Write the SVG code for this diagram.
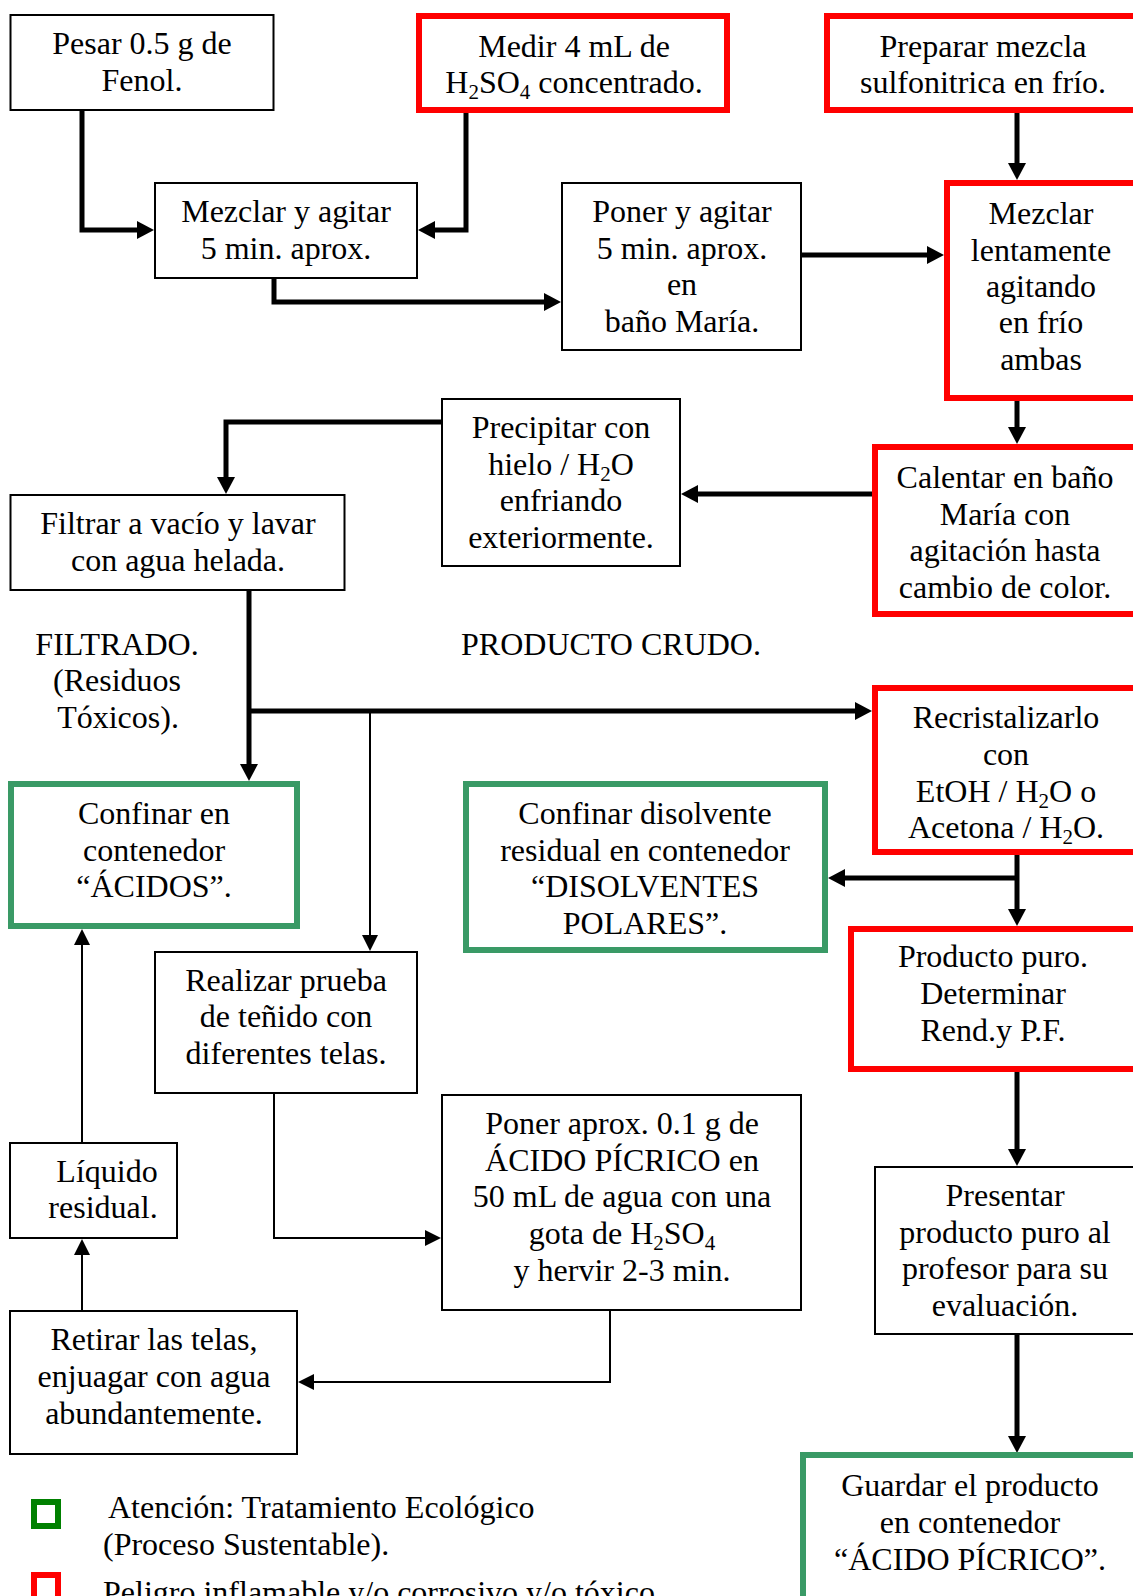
<svg xmlns="http://www.w3.org/2000/svg" width="1133" height="1596" viewBox="0 0 1133 1596">
<style>
text{font-family:"Liberation Serif","Times New Roman",serif;font-size:32px;fill:#000;text-anchor:middle}
.b{fill:#fff;stroke:#000;stroke-width:2}
.r{fill:#fff;stroke:#ff0000;stroke-width:6}
.g{fill:#fff;stroke:#3a9a66;stroke-width:6}
.thick{fill:none;stroke:#000;stroke-width:5}
.thin{fill:none;stroke:#000;stroke-width:2}
.lg{text-anchor:start}
</style>
<defs>
<marker id="ah" markerUnits="userSpaceOnUse" viewBox="0 0 17 18" markerWidth="17" markerHeight="18" refX="1" refY="9" orient="auto">
<path d="M0,0 L17,9 L0,18 z" fill="#000"/>
</marker>
<marker id="at" markerUnits="userSpaceOnUse" viewBox="0 0 16 16" markerWidth="16" markerHeight="16" refX="1" refY="8" orient="auto">
<path d="M0,0 L16,8 L0,16 z" fill="#000"/>
</marker>
</defs>
<rect width="1133" height="1596" fill="#fff"/>

<g id="connectors">
<path class="thick" d="M82,111 V230 H138" marker-end="url(#ah)"/>
<path class="thick" d="M466,113 V230 H434" marker-end="url(#ah)"/>
<path class="thick" d="M1017,113 V164" marker-end="url(#ah)"/>
<path class="thick" d="M274,279 V302 H545" marker-end="url(#ah)"/>
<path class="thick" d="M802,255 H928" marker-end="url(#ah)"/>
<path class="thick" d="M1017,401 V428" marker-end="url(#ah)"/>
<path class="thick" d="M872,494 H697" marker-end="url(#ah)"/>
<path class="thick" d="M441,422 H226 V478" marker-end="url(#ah)"/>
<path class="thick" d="M249,591 V765" marker-end="url(#ah)"/>
<path class="thick" d="M249,711 H856" marker-end="url(#ah)"/>
<path class="thin" d="M370,711 V936" marker-end="url(#at)"/>
<path class="thick" d="M1017,855 V910" marker-end="url(#ah)"/>
<path class="thick" d="M1017,878 H844" marker-end="url(#ah)"/>
<path class="thick" d="M1017,1072 V1150" marker-end="url(#ah)"/>
<path class="thick" d="M1017,1335 V1437" marker-end="url(#ah)"/>
<path class="thin" d="M274,1094 V1238 H426" marker-end="url(#at)"/>
<path class="thin" d="M610,1311 V1382 H313" marker-end="url(#at)"/>
<path class="thin" d="M82,1310 V1254" marker-end="url(#at)"/>
<path class="thin" d="M82,1142 V944" marker-end="url(#at)"/>
</g>

<g id="n-pesar">
<rect class="b" x="10.5" y="15" width="263" height="95"/>
<text x="142" y="54">Pesar 0.5 g de</text>
<text x="142" y="91">Fenol.</text>
</g>

<g id="n-medir">
<rect class="r" x="419" y="16" width="308" height="94"/>
<text x="574" y="57">Medir 4 mL de</text>
<text x="574" y="93">H<tspan font-size="21" dy="6">2</tspan><tspan dy="-6">SO</tspan><tspan font-size="21" dy="6">4</tspan><tspan dy="-6"> concentrado.</tspan></text>
</g>

<g id="n-preparar">
<rect class="r" x="827" y="16" width="330" height="94"/>
<text x="983" y="57">Preparar mezcla</text>
<text x="983" y="93">sulfonitrica en frío.</text>
</g>

<g id="n-mezclar1">
<rect class="b" x="155" y="183" width="262" height="95"/>
<text x="286" y="222">Mezclar y agitar</text>
<text x="286" y="259">5 min. aprox.</text>
</g>

<g id="n-poner1">
<rect class="b" x="562" y="183" width="239" height="167"/>
<text x="682" y="222">Poner y agitar</text>
<text x="682" y="259">5 min. aprox.</text>
<text x="682" y="295">en</text>
<text x="682" y="332">baño María.</text>
</g>

<g id="n-mezclar2">
<rect class="r" x="947" y="183" width="220" height="215"/>
<text x="1041" y="224">Mezclar</text>
<text x="1041" y="261">lentamente</text>
<text x="1041" y="297">agitando</text>
<text x="1041" y="333">en frío</text>
<text x="1041" y="370">ambas</text>
</g>

<g id="n-precipitar">
<rect class="b" x="442" y="399" width="238" height="167"/>
<text x="561" y="438">Precipitar con</text>
<text x="561" y="475">hielo / H<tspan font-size="21" dy="6">2</tspan><tspan dy="-6">O</tspan></text>
<text x="561" y="511">enfriando</text>
<text x="561" y="548">exteriormente.</text>
</g>

<g id="n-calentar">
<rect class="r" x="875" y="447" width="300" height="167"/>
<text x="1005" y="488">Calentar en baño</text>
<text x="1005" y="525">María con</text>
<text x="1005" y="561">agitación hasta</text>
<text x="1005" y="598">cambio de color.</text>
</g>

<g id="n-filtrar">
<rect class="b" x="10.5" y="495" width="334" height="95"/>
<text x="178" y="534">Filtrar a vacío y lavar</text>
<text x="178" y="571">con agua helada.</text>
</g>

<g id="labels">
<text x="117" y="655">FILTRADO.</text>
<text x="117" y="691">(Residuos</text>
<text x="118" y="728">Tóxicos).</text>
<text x="611" y="655">PRODUCTO CRUDO.</text>
</g>

<g id="n-recristalizar">
<rect class="r" x="875" y="688" width="300" height="164"/>
<text x="1006" y="728">Recristalizarlo</text>
<text x="1006" y="765">con</text>
<text x="1006" y="802">EtOH / H<tspan font-size="21" dy="6">2</tspan><tspan dy="-6">O o</tspan></text>
<text x="1006" y="838">Acetona / H<tspan font-size="21" dy="6">2</tspan><tspan dy="-6">O.</tspan></text>
</g>

<g id="n-acidos">
<rect class="g" x="11" y="784" width="286" height="142"/>
<text x="154" y="824">Confinar en</text>
<text x="154" y="861">contenedor</text>
<text x="154" y="897">“ÁCIDOS”.</text>
</g>

<g id="n-disolventes">
<rect class="g" x="466" y="784" width="359" height="166"/>
<text x="645" y="824">Confinar disolvente</text>
<text x="645" y="861">residual en contenedor</text>
<text x="645" y="897">“DISOLVENTES</text>
<text x="645" y="934">POLARES”.</text>
</g>

<g id="n-puro">
<rect class="r" x="851" y="929" width="300" height="140"/>
<text x="993" y="967">Producto puro.</text>
<text x="993" y="1004">Determinar</text>
<text x="993" y="1041">Rend.y P.F.</text>
</g>

<g id="n-realizar">
<rect class="b" x="155" y="952" width="262" height="141"/>
<text x="286" y="991">Realizar prueba</text>
<text x="286" y="1027">de teñido con</text>
<text x="286" y="1064">diferentes telas.</text>
</g>

<g id="n-poner2">
<rect class="b" x="442" y="1095" width="359" height="215"/>
<text x="622" y="1134">Poner aprox. 0.1 g de</text>
<text x="622" y="1171">ÁCIDO PÍCRICO en</text>
<text x="622" y="1207">50 mL de agua con una</text>
<text x="622" y="1244">gota de H<tspan font-size="21" dy="6">2</tspan><tspan dy="-6">SO</tspan><tspan font-size="21" dy="6">4</tspan></text>
<text x="622" y="1281">y hervir 2-3 min.</text>
</g>

<g id="n-liquido">
<rect class="b" x="10" y="1143" width="167" height="95"/>
<text x="107" y="1182">Líquido</text>
<text x="103" y="1218">residual.</text>
</g>

<g id="n-retirar">
<rect class="b" x="10" y="1311" width="287" height="143"/>
<text x="154" y="1350">Retirar las telas,</text>
<text x="154" y="1387">enjuagar con agua</text>
<text x="154" y="1424">abundantemente.</text>
</g>

<g id="n-presentar">
<rect class="b" x="875" y="1167" width="300" height="167"/>
<text x="1005" y="1206">Presentar</text>
<text x="1005" y="1243">producto puro al</text>
<text x="1005" y="1279">profesor para su</text>
<text x="1005" y="1316">evaluación.</text>
</g>

<g id="n-guardar">
<rect class="g" x="803" y="1455" width="360" height="200"/>
<text x="970" y="1496">Guardar el producto</text>
<text x="970" y="1533">en contenedor</text>
<text x="970" y="1570">“ÁCIDO PÍCRICO”.</text>
</g>

<g id="legend">
<rect x="34" y="1502" width="24" height="24" fill="#fff" stroke="#008000" stroke-width="6"/>
<text class="lg" x="108" y="1518">Atención: Tratamiento Ecológico</text>
<text class="lg" x="103" y="1555">(Proceso Sustentable).</text>
<rect x="34" y="1575" width="24" height="24" fill="#fff" stroke="#ff0000" stroke-width="6"/>
<text class="lg" x="103" y="1603">Peligro inflamable y/o corrosivo y/o tóxico</text>
</g>
</svg>
